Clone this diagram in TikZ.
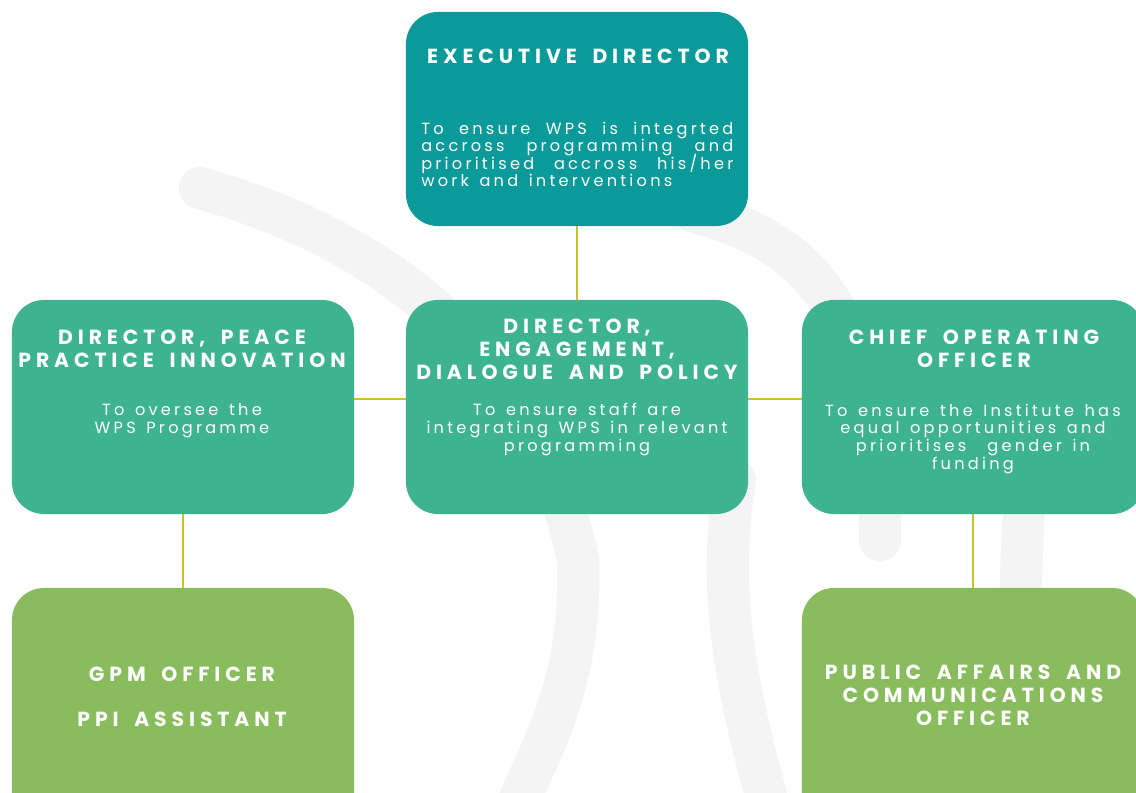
\documentclass[tikz,border=0pt]{standalone}
\usepackage{fontspec}
\setmainfont{Poppins}
\newfontfamily\headfont{Poppins}[LetterSpace=24, WordSpace=1.7]
\newfontfamily\bodyfont{Poppins}[LetterSpace=20, WordSpace=1.4]
\usetikzlibrary{positioning}

\definecolor{execteal}{RGB}{11,154,154}
\definecolor{midgreen}{RGB}{62,179,144}
\definecolor{lowgreen}{RGB}{136,188,92}
\definecolor{linkolive}{RGB}{201,194,40}
\definecolor{wmgray}{RGB}{244,244,244}

\begin{document}
\begin{tikzpicture}[x=0.025cm, y=-0.025cm,
    box/.style={rounded corners=0.8cm, minimum width=8.55cm, minimum height=5.35cm, inner sep=0pt},
    lowbox/.style={box, fill=lowgreen, minimum height=7.5cm},
    head/.style={text=white, font={\headfont\bfseries\fontsize{14.5}{16.3}\selectfont\lineskiplimit-20pt}, align=center, anchor=base, inner sep=0pt},
    body/.style={text=white, font={\bodyfont\fontsize{11.5}{12.45}\selectfont\lineskiplimit-20pt}, align=center, anchor=base, inner sep=0pt},
    link/.style={draw=linkolive, line width=1.4pt},
    wmark/.style={draw=wmgray, line width=30pt, line cap=round}]

\useasboundingbox (0,0) rectangle (1136,793);
\clip (0,0) rectangle (1136,793);

% faint logo strokes in the background
\draw[wmark] (200,188) .. controls (350,230) and (530,330) .. (578,560) .. controls (582,680) and (545,740) .. (515,810);
\draw[wmark] (695,212) .. controls (800,240) and (880,300) .. (880,540);
\draw[wmark] (735,480) .. controls (715,600) and (740,700) .. (770,810);
\draw[wmark] (1025,480) -- (1020,600);

% boxes
\node[box, fill=execteal] (exec) at (577,119) {};
\node[box, fill=midgreen] (ppi) at (183,407) {};
\node[box, fill=midgreen] (edp) at (577,407) {};
\node[box, fill=midgreen] (coo) at (973,407) {};
\node[lowbox] (gpm) at (183,738) {};
\node[lowbox] (pac) at (973,738) {};

% connectors
\draw[link] (exec.south) -- (edp.north);
\draw[link] ([yshift=0.2cm]ppi.east) -- ([yshift=0.2cm]edp.west);
\draw[link] ([yshift=0.2cm]edp.east) -- ([yshift=0.2cm]coo.west);
\draw[link] (ppi.south) -- (gpm.north);
\draw[link] (coo.south) -- (pac.north);

% texts (base = last line)
\node[head] (exec-h) at (578,64) {EXECUTIVE DIRECTOR};
\node[body, align=left, anchor=base west] (exec-b) at (421,186.7)
    {\makebox[7.8cm][s]{To ensure WPS is integrted}\\
     \makebox[7.8cm][s]{accross programming and}\\
     \makebox[7.8cm][s]{prioritised accross his/her}\\
     \makebox[7.8cm][l]{work and interventions}};

\node[head] (ppi-h) at (182,367.7) {DIRECTOR, PEACE\\PRACTICE INNOVATION};
\node[body] (ppi-b) at (182,433) {To oversee the\\WPS Programme};

\node[head] (edp-h) at (577,379.3) {DIRECTOR,\\ENGAGEMENT,\\DIALOGUE AND POLICY};
\node[body] (edp-b) at (577,451) {To ensure staff are\\integrating WPS in relevant\\programming};

\node[head] (coo-h) at (974,367.7) {CHIEF OPERATING\\OFFICER};
\node[body] (coo-b) at (973,469) {To ensure the Institute has\\equal opportunities and\\prioritises\ \ gender in\\funding};

\node[head] (gpm-h) at (182,726) {GPM OFFICER\\[15.2pt]PPI ASSISTANT};
\node[head] (pac-h) at (973,725.7) {PUBLIC AFFAIRS AND\\COMMUNICATIONS\\OFFICER};

\end{tikzpicture}
\end{document}
